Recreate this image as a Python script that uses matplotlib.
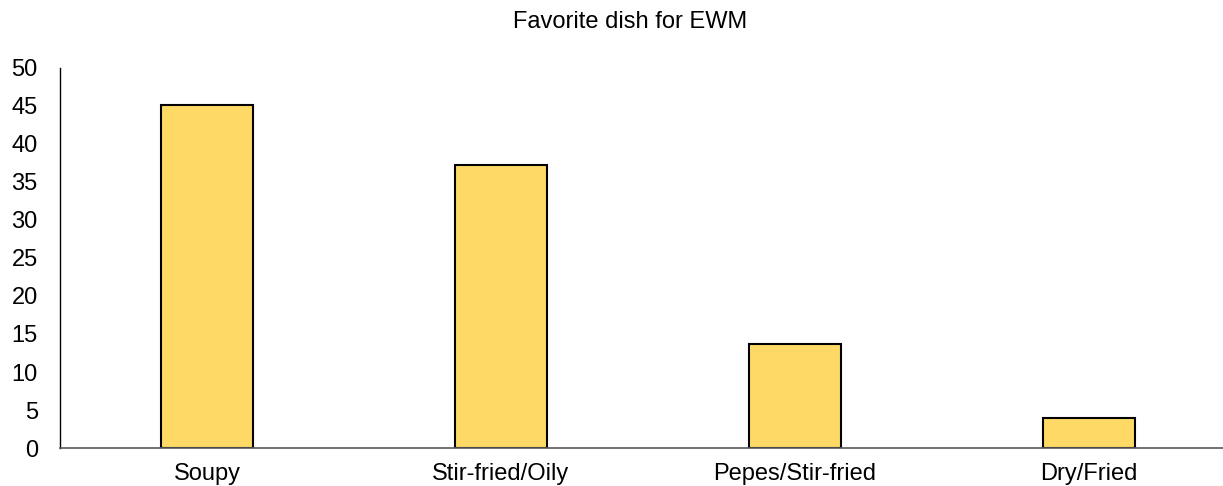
import matplotlib
matplotlib.use("Agg")
import matplotlib.pyplot as plt

plt.rcParams['font.family'] = ['Liberation Sans', 'DejaVu Sans']

dishes = ["Soupy", "Stir-fried/Oily", "Pepes/Stir-fried", "Dry/Fried"]
percent = [45.1, 37.3, 13.7, 3.9]

fig = plt.figure(figsize=(12.23, 4.86), dpi=100)
# axis runs off the right edge of the figure
ax = fig.add_axes([60 / 1223, 1 - 448 / 486, 1163 / 1223, 380 / 486])

x = range(len(dishes))
ax.bar(x, percent, width=0.316, color="#FFD966", edgecolor="#000000", linewidth=1.5, zorder=2)

ax.set_xlim(-0.5, 1163 / 294 - 0.5)
ax.set_ylim(0, 50)
ax.set_yticks(range(0, 51, 5))
ax.set_xticks(list(x))
ax.set_xticklabels(dishes)
ax.tick_params(axis="both", length=0, labelsize=17, colors="#000000")
ax.tick_params(axis="x", pad=11)
ax.tick_params(axis="y", pad=16)

ax.spines['right'].set_visible(False)
ax.spines['top'].set_visible(False)
ax.spines['left'].set_color("#000000")
ax.spines['bottom'].set_color("#595959")
ax.spines['left'].set_linewidth(1.0)
ax.spines['bottom'].set_linewidth(1.2)

fig.text(630 / 1223, 1 - 22 / 486, "Favorite dish for EWM", ha="center", va="center", fontsize=17)

fig.savefig("out.png", dpi=100)
